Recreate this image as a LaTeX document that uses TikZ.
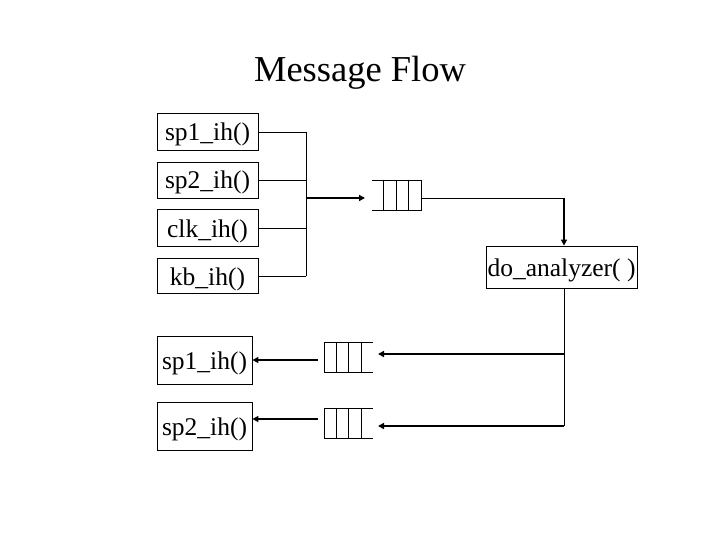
\documentclass[tikz,border=0pt]{standalone}
\usepackage{fontspec}
\setmainfont{Liberation Serif}
\usetikzlibrary{arrows.meta}
\begin{document}
\begin{tikzpicture}[x=1pt,y=-1pt,
  box/.style={draw,line width=0.8pt,inner sep=0pt,text height=18pt,text depth=0pt,font=\fontsize{25.5}{25.5}\selectfont},
  ln/.style={line width=0.8pt},
  arr/.style={line width=1.8pt,-{Triangle[length=6pt,width=6pt]}},
  ttl/.style={font=\fontsize{36.5}{36.5}\selectfont}]
\useasboundingbox (0,0) rectangle (720,540);
\node[ttl] (title) at (360,73) {Message Flow};
% input handlers
\node[box,minimum width=101pt,minimum height=37pt] (a1) at (207.5,132) {sp1\_ih()};
\node[box,minimum width=101pt,minimum height=36pt] (a2) at (207.5,180) {sp2\_ih()};
\node[box,minimum width=101pt,minimum height=37pt] (a3) at (207.5,228) {clk\_ih()};
\node[box,minimum width=101pt,minimum height=35pt] (a4) at (207.5,276) {kb\_ih()};
% analyzer
\node[box,minimum width=151pt,minimum height=42pt] (an) at (561.5,267) {do\_analyzer( )};
% output handlers
\node[box,minimum width=95pt,minimum height=48pt] (b1) at (204.5,360) {sp1\_ih()};
\node[box,minimum width=95pt,minimum height=48pt] (b2) at (204.5,426) {sp2\_ih()};
% junction
\coordinate (j1) at (306,132);
\coordinate (j4) at (306,276);
\coordinate (jm) at (306,198);
\draw[ln] (j1) -- (j4);
\foreach \n in {a1,a2,a3,a4} \draw[ln] (\n.east) -- (\n.east -| j1);
% queue 1
\coordinate (q1in) at (365,198);
\draw[arr] (jm) -- (q1in);
\draw[ln] (372,180) -- (421,180) -- (421,210) -- (372,210);
\foreach \x in {383,396,408} \draw[ln] (\x,180) -- (\x,210);
\coordinate (q1out) at (421,198);
\coordinate (c1) at (564,198);
\draw[ln] (q1out) -- (c1);
\draw[arr] (c1) -- (c1 |- an.north);
% output trunk
\coordinate (t1) at (564,354);
\coordinate (t2) at (564,426);
\draw[ln] (an.south -| t2) -- (t2);
% queue 2
\draw[ln] (373,342) -- (324,342) -- (324,372) -- (373,372);
\foreach \x in {336,348,361} \draw[ln] (\x,342) -- (\x,372);
\coordinate (q2in) at (378,354);
\coordinate (q2out) at (318,360);
\draw[arr] (t1) -- (q2in);
\draw[arr] (q2out) -- (b1.east);
% queue 3
\draw[ln] (373,408) -- (324,408) -- (324,438) -- (373,438);
\foreach \x in {336,348,361} \draw[ln] (\x,408) -- (\x,438);
\coordinate (q3in) at (378,426);
\coordinate (q3out) at (318,419);
\draw[arr] (t2) -- (q3in);
\draw[arr] (q3out) -- (b2.east |- q3out);
\end{tikzpicture}
\end{document}
